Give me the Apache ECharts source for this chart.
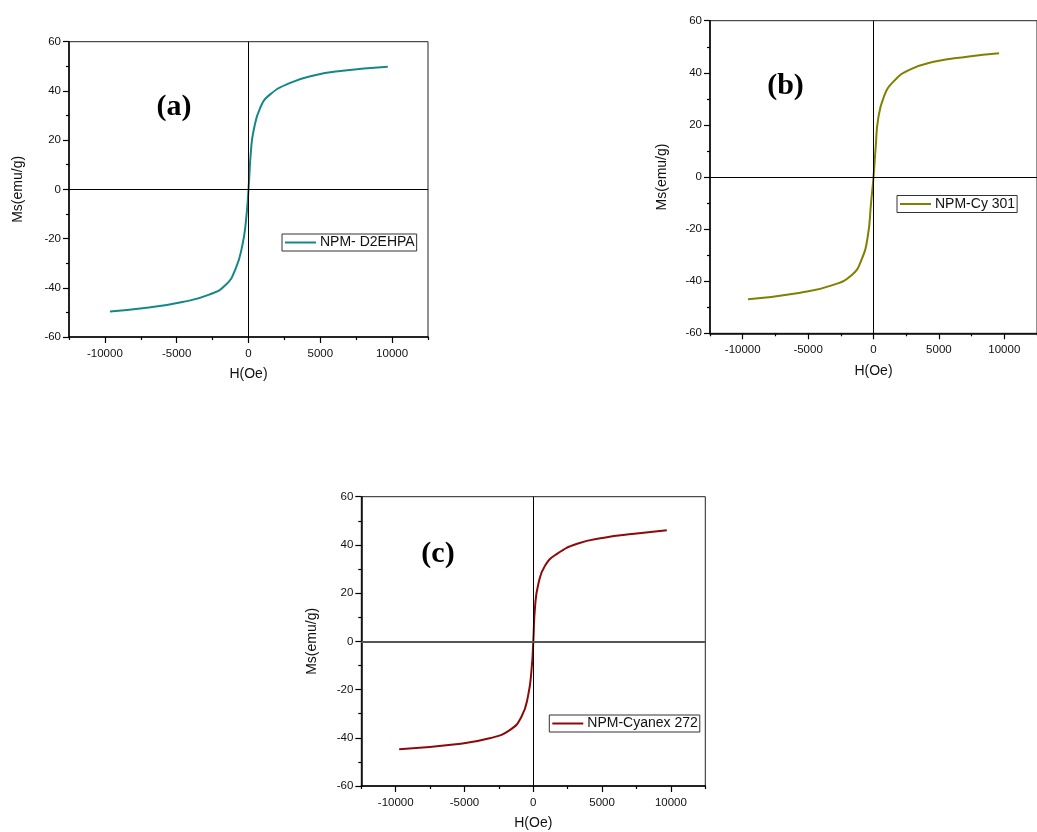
<!DOCTYPE html>
<html>
<head>
<meta charset="utf-8">
<script src="https://cdn.jsdelivr.net/npm/echarts@6/dist/echarts.min.js"></script>
<style>
  html, body { margin: 0; padding: 0; background: #fff; }
  #chart { width: 1037px; height: 832px; }
</style>
</head>
<body>
<div id="chart"></div>
<script>
// values: field H (Oe) and magnetisation Ms (emu/g)
const hA = [-9650, -6930, -4600, -2740, -1580, -880, -420, -180, 0, 170, 350, 820, 1510, 2910, 4540, 6400, 9700];
const msA = [-49.6, -48, -45.8, -42.8, -38.8, -32, -22.5, -13, 0, 15.6, 23.7, 33.2, 38.6, 43.3, 46.3, 48.1, 49.8];

const hB = [-9590, -5580, -3130, -1660, -930, -440, -190, 0, 170, 345, 790, 1520, 2740, 4700, 7150, 9600];
const msB = [-46.9, -44.4, -41.5, -37.6, -31.9, -22.9, -10.1, 0, 11.6, 21.9, 30.8, 36.6, 41.1, 44.3, 46.2, 47.5];

const hC = [-9750, -5630, -3180, -1710, -860, -370, -120, 0, 125, 370, 860, 1720, 3190, 5150, 7350, 9700];
const msC = [-44.8, -42.7, -40.2, -36.8, -31.3, -22.3, -11.2, 0, 14.2, 23.9, 31.5, 36.3, 40.5, 43, 44.6, 46.1];

const names = ['NPM- D2EHPA', 'NPM-Cy 301', 'NPM-Cyanex 272'];
const colors = ['#168787', '#808000', '#8b0a0a'];
const panelLabels = ['(a)', '(b)', '(c)'];
const majorTicksX = [-10000, -5000, 0, 5000, 10000];
const minorTicksX = [-12500, -7500, -2500, 2500, 7500, 12500];

const font = '"Liberation Sans", Arial, sans-serif';

const grids = [
    {left: 69, top: 41.7, width: 359, height: 295.3},
    {left: 710, top: 20.7, width: 338.6, height: 312.6},
    {left: 361.3, top: 496.7, width: 344, height: 289.3}
];
const yNameGap = [44, 41, 42];
const xNameGap = [30, 31, 30];
const zeroH = [{color: '#000', width: 1}, {color: '#000', width: 1.2}, {color: '#555', width: 2}];

function zip(h, m) {
    return h.map((v, i) => [v, m[i]]);
}
const dataSets = [zip(hA, msA), zip(hB, msB), zip(hC, msC)];

let chart = echarts.init(document.getElementById('chart'));

let xAxes = [], yAxes = [], series = [], legends = [];
grids.forEach((g, i) => {
    // main x axis: line, major ticks and labels
    xAxes.push({
        type: 'value', gridIndex: i, position: 'bottom',
        min: -12500, max: 12500,
        name: 'H(Oe)', nameLocation: 'middle', nameGap: xNameGap[i],
        nameTextStyle: {fontFamily: font, fontSize: 14, color: '#111'},
        axisLine: {show: true, onZero: false, lineStyle: {color: '#000', width: 1.5}},
        axisTick: {show: true, customValues: majorTicksX, length: 6, lineStyle: {color: '#000', width: 1.2}},
        axisLabel: {show: true, customValues: majorTicksX, margin: 11, fontFamily: font, fontSize: 11.5, color: '#111',
            formatter: v => String(v)},
        splitLine: {show: false}
    });
    // second x axis only for the short minor ticks
    xAxes.push({
        type: 'value', gridIndex: i, position: 'bottom',
        min: -12500, max: 12500,
        axisLine: {show: false, onZero: false},
        axisTick: {show: true, customValues: minorTicksX, length: 3, lineStyle: {color: '#000', width: 1.2}},
        axisLabel: {show: false},
        splitLine: {show: false}
    });
    yAxes.push({
        type: 'value', gridIndex: i, position: 'left',
        min: -60, max: 60, interval: 20,
        name: 'Ms(emu/g)', nameLocation: 'middle', nameGap: yNameGap[i],
        nameTextStyle: {fontFamily: font, fontSize: 14, color: '#111'},
        axisLine: {show: true, onZero: false, lineStyle: {color: '#000', width: 1.5}},
        axisTick: {show: true, length: 6, lineStyle: {color: '#000', width: 1.2}},
        minorTick: {show: true, splitNumber: 2, length: 3, lineStyle: {color: '#000', width: 1.2}},
        axisLabel: {margin: 8, fontFamily: font, fontSize: 11.5, color: '#111'},
        splitLine: {show: false}
    });
    series.push({
        name: names[i],
        type: 'line',
        xAxisIndex: i * 2,
        yAxisIndex: i,
        data: dataSets[i],
        showSymbol: false,
        smooth: 0.5,
        lineStyle: {color: colors[i], width: 2},
        itemStyle: {color: colors[i]},
        markLine: {
            silent: true,
            symbol: ['none', 'none'],
            label: {show: false},
            animation: false,
            data: [
                {xAxis: 0, lineStyle: {color: '#000', width: 1, type: 'solid'}},
                {yAxis: 0, lineStyle: {color: zeroH[i].color, width: zeroH[i].width, type: 'solid'}}
            ]
        }
    });
});

const legendPos = [
    {left: 282, top: 234},
    {left: 897, top: 195.5},
    {left: 549.3, top: 715}
];
legendPos.forEach((p, i) => {
    legends.push({
        data: [names[i]],
        left: p.left, top: p.top,
        orient: 'horizontal',
        selectedMode: false,
        icon: 'rect',
        itemWidth: 31, itemHeight: 2,
        itemGap: 0,
        padding: [1, 2, 1, 3],
        borderColor: '#333', borderWidth: 1,
        backgroundColor: '#fff',
        textStyle: {fontFamily: font, fontSize: 14, color: '#111', lineHeight: 15, padding: [0, 0, 0, -1]}
    });
});

const labelPos = [[174, 107], [785.5, 86], [438, 554.5]];
let graphics = labelPos.map((p, i) => ({
    type: 'text',
    x: p[0], y: p[1],
    style: {
        text: panelLabels[i],
        font: 'bold 30px "Liberation Serif", "Times New Roman", serif',
        fill: '#000',
        align: 'center',
        verticalAlign: 'middle'
    },
    z: 10
}));

let option = {
    animation: false,
    backgroundColor: '#fff',
    grid: grids.map(g => Object.assign({show: true, borderColor: '#222', borderWidth: 1, backgroundColor: 'transparent'}, g)),
    xAxis: xAxes,
    yAxis: yAxes,
    legend: legends,
    series: series,
    graphic: graphics
};
chart.setOption(option);
</script>
</body>
</html>
